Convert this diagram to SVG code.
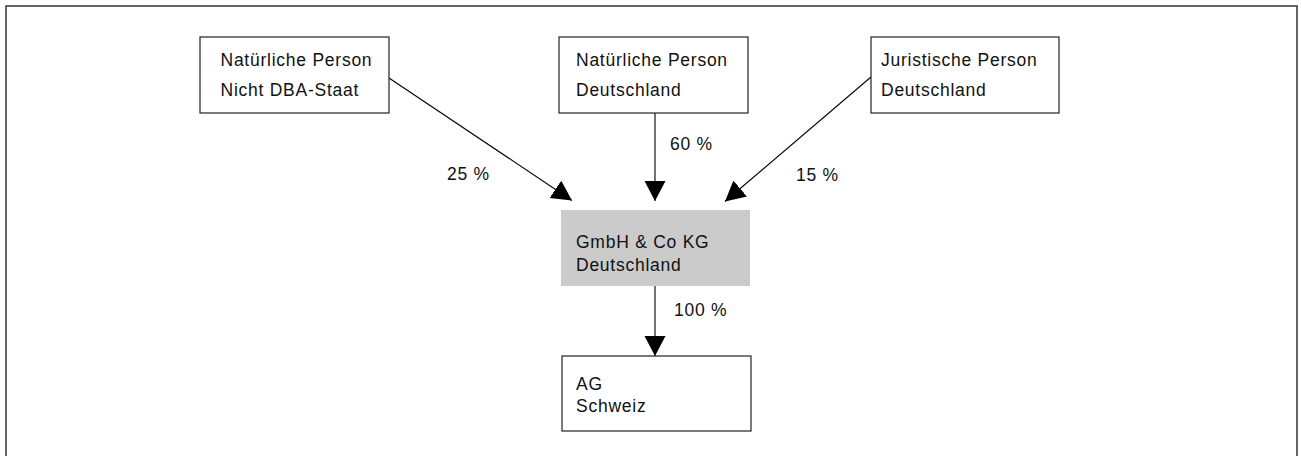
<svg xmlns="http://www.w3.org/2000/svg" width="1301" height="456" viewBox="0 0 1301 456">
  <style>
    .frame { fill: none; stroke: #333; stroke-width: 1.5; }
    .box { fill: #fff; stroke: #222; stroke-width: 1.2; }
    .box-shaded { fill: #cbcbcb; stroke: none; }
    .lbl { font-family: "Liberation Sans", Arial, sans-serif; font-size: 17.5px; letter-spacing: 0.75px; fill: #111; }
    .edge { fill: none; stroke: #000; stroke-width: 1.1; marker-end: url(#head); }
  </style>
  <defs>
    <marker id="head" markerUnits="userSpaceOnUse" markerWidth="21" markerHeight="22" refX="20" refY="10.5" orient="auto">
      <path d="M0,0 L20,10.5 L0,21 z" fill="#000"/>
    </marker>
  </defs>

  <!-- outer frame (open at the bottom) -->
  <path class="frame" d="M6,460 L6,6 L1297,6 L1297,460"/>

  <g id="connectors">
    <line class="edge" x1="389" y1="78" x2="572" y2="200.5"/>
    <line class="edge" x1="655" y1="113" x2="655" y2="201"/>
    <line class="edge" x1="871" y1="77" x2="725" y2="201.5"/>
    <line class="edge" x1="655" y1="286" x2="655" y2="356"/>
    <text class="lbl" x="447" y="179.5">25 %</text>
    <text class="lbl" x="670" y="149.5">60 %</text>
    <text class="lbl" x="796" y="180.5">15 %</text>
    <text class="lbl" x="674" y="316">100 %</text>
  </g>

  <g id="node-np-nicht-dba">
    <rect class="box" x="200" y="37" width="189" height="76"/>
    <text class="lbl" x="220.5" y="65.5">Natürliche Person</text>
    <text class="lbl" x="220.5" y="95.5">Nicht DBA-Staat</text>
  </g>

  <g id="node-np-deutschland">
    <rect class="box" x="559" y="37" width="189" height="76"/>
    <text class="lbl" x="576" y="65.5">Natürliche Person</text>
    <text class="lbl" x="576" y="95.5">Deutschland</text>
  </g>

  <g id="node-jp-deutschland">
    <rect class="box" x="871" y="37" width="188" height="76"/>
    <text class="lbl" x="881" y="65.5">Juristische Person</text>
    <text class="lbl" x="881" y="95.5">Deutschland</text>
  </g>

  <g id="node-gmbh-co-kg">
    <rect class="box-shaded" x="561" y="210" width="189" height="76"/>
    <text class="lbl" x="576" y="248">GmbH &amp; Co KG</text>
    <text class="lbl" x="576" y="270.5">Deutschland</text>
  </g>

  <g id="node-ag-schweiz">
    <rect class="box" x="562" y="356" width="189" height="75"/>
    <text class="lbl" x="576" y="390">AG</text>
    <text class="lbl" x="576" y="412">Schweiz</text>
  </g>
</svg>
